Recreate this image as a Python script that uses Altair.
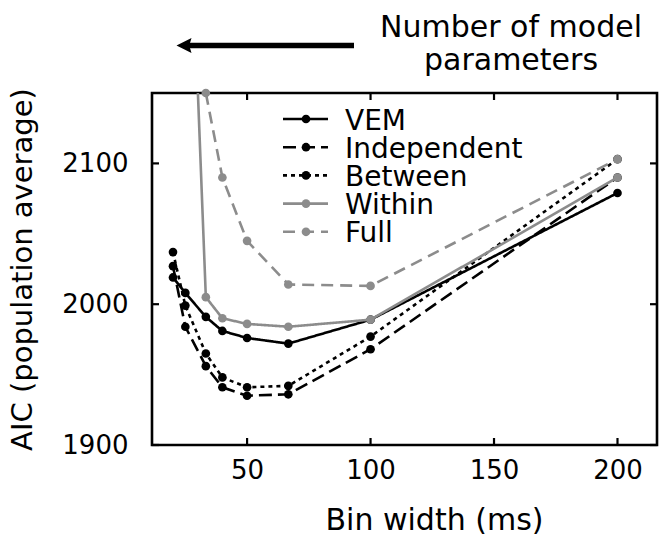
import altair as alt
import pandas as pd

# Bin widths (ms) at which each model was fitted
bin_width = [20, 25, 33.3, 40, 50, 66.7, 100, 200]

# Population-average AIC per model (None = not shown)
vem = [2019, 2008, 1991, 1981, 1976, 1972, 1989, 2079]
independent = [2027, 1984, 1956, 1941, 1935, 1936, 1968, 2090]
between = [2037, 1999, 1965, 1948, 1941, 1942, 1977, 2103]
within = [None, 2380, 2005, 1990, 1986, 1984, 1989, 2090]
full = [None, None, 2150, 2090, 2045, 2014, 2013, 2103]

series_names = ["VEM", "Independent", "Between", "Within", "Full"]
series_values = [vem, independent, between, within, full]
series_colors = ["#000000", "#000000", "#000000", "#8c8c8c", "#8c8c8c"]
series_dashes = [[1, 0], [13, 6], [4, 4], [1, 0], [12, 7]]

x_ticks = [50, 100, 150, 200]
y_ticks = [1900, 2000, 2100]

X_DOMAIN = [11.5, 216]
Y_DOMAIN = [1900, 2150]
FONT = "DejaVu Sans"
W, H = 505, 352

x_scale = alt.Scale(domain=X_DOMAIN, nice=False, zero=False)
y_scale = alt.Scale(domain=Y_DOMAIN, nice=False, zero=False)

x_axis = alt.Axis(
    values=x_ticks, ticks=False, tickSize=0, domain=False, grid=False,
    labelFont=FONT, labelFontSize=26, labelColor="black", labelPadding=12,
    labelFlush=False, format="d", title="Bin width (ms)", titleFont=FONT,
    titleFontSize=30, titleFontWeight="normal", titleColor="black",
    titlePadding=22, titleX=282,
)
y_axis = alt.Axis(
    values=y_ticks, ticks=False, tickSize=0, domain=False, grid=False,
    labelFont=FONT, labelFontSize=26, labelColor="black", labelPadding=24,
    labelFlush=False, format="d", title="AIC (population average)",
    titleFont=FONT, titleFontSize=29, titleFontWeight="normal",
    titleColor="black", titlePadding=24,
)


def xenc(field):
    return alt.X(f"{field}:Q", scale=x_scale, axis=x_axis)


def yenc(field):
    return alt.Y(f"{field}:Q", scale=y_scale, axis=y_axis)


layers = []
for name, vals, color, dash in zip(series_names, series_values, series_colors, series_dashes):
    df = pd.DataFrame({"bin": bin_width, "aic": vals}).dropna()
    df["model"] = name
    line = alt.Chart(df).mark_line(
        clip=True, color=color, strokeWidth=2.6, strokeDash=dash
    ).encode(x=xenc("bin"), y=yenc("aic"))
    pts = alt.Chart(df).transform_filter(
        f"datum.aic <= {Y_DOMAIN[1]}"
    ).mark_point(filled=True, color=color, opacity=1, size=75).encode(
        x=xenc("bin"), y=yenc("aic")
    )
    layers += [line, pts]

# Inward tick marks on all four sides of the frame
xt = pd.DataFrame({"bin": x_ticks})
yt = pd.DataFrame({"aic": y_ticks})
tick_len = 7
tick_style = dict(color="black", strokeWidth=2.2)
layers.append(alt.Chart(xt).mark_rule(**tick_style).encode(
    x=xenc("bin"), y=alt.value(H), y2=alt.value(H - tick_len)))
layers.append(alt.Chart(xt).mark_rule(**tick_style).encode(
    x=xenc("bin"), y=alt.value(0), y2=alt.value(tick_len)))
layers.append(alt.Chart(yt).mark_rule(**tick_style).encode(
    y=yenc("aic"), x=alt.value(0), x2=alt.value(tick_len)))
layers.append(alt.Chart(yt).mark_rule(**tick_style).encode(
    y=yenc("aic"), x=alt.value(W), x2=alt.value(W - tick_len)))

# Legend drawn inside the plot area
one = pd.DataFrame({"k": [0]})
leg_x0, leg_x1, leg_dot, leg_text = 131, 176, 154, 193
leg_top, leg_step = 26, 28.2
for i, (name, color, dash) in enumerate(zip(series_names, series_colors, series_dashes)):
    ry = leg_top + leg_step * i
    layers.append(alt.Chart(one).mark_rule(color=color, strokeWidth=2.6, strokeDash=dash).encode(
        x=alt.value(leg_x0), x2=alt.value(leg_x1), y=alt.value(ry)))
    layers.append(alt.Chart(one).mark_point(filled=True, color=color, opacity=1, size=75).encode(
        x=alt.value(leg_dot), y=alt.value(ry)))
    layers.append(alt.Chart(one).mark_text(
        text=name, font=FONT, fontSize=28, color="black", align="left", baseline="alphabetic"
    ).encode(x=alt.value(leg_text), y=alt.value(ry + 10.5)))

# Annotation above the plot: arrow and caption
layers.append(alt.Chart(one).mark_rule(color="black", strokeWidth=5.5).encode(
    x=alt.value(36), x2=alt.value(202), y=alt.value(-47.5)))
layers.append(alt.Chart(one).mark_point(
    shape="M -1 0 L 1 -1 L 0.7 0 L 1 1 Z", filled=True, color="black", opacity=1, size=225
).encode(x=alt.value(32), y=alt.value(-47.5)))
for txt, by in [("Number of model", -56.3), ("parameters", -23)]:
    layers.append(alt.Chart(one).mark_text(
        text=txt, font=FONT, fontSize=30, color="black", align="center", baseline="alphabetic"
    ).encode(x=alt.value(359), y=alt.value(by)))

chart = alt.layer(*layers).properties(
    width=W, height=H,
    autosize=alt.AutoSizeParams(type="none"),
    padding={"left": 152, "top": 93, "right": 5, "bottom": 95},
    background="white",
).configure_view(stroke="black", strokeWidth=2.6)

chart.save("out.html", embed_options={"renderer": "svg", "actions": False})
